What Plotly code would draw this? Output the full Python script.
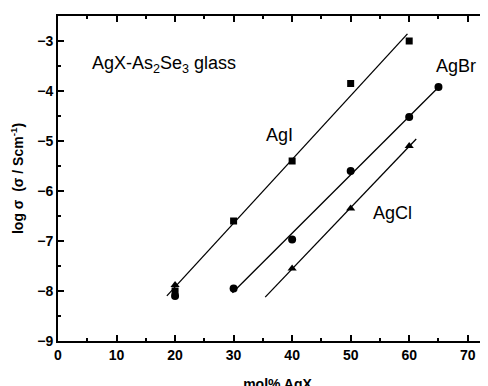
import numpy as np
import plotly.graph_objects as go

# Data (mol% AgX vs log conductivity)
agi_x = [20, 30, 40, 50, 60]
agi_y = [-8.0, -6.6, -5.4, -3.85, -3.0]
agbr_x = [20, 30, 40, 50, 60, 65]
agbr_y = [-8.1, -7.95, -6.97, -5.6, -4.52, -3.92]
agcl_x = [20, 40, 50, 60]
agcl_y = [-7.88, -7.55, -6.35, -5.1]

# fitted-line extents (x) and which points were fitted
agi_fit_range = [18.6, 59.7]
agbr_fit_range = [29.8, 65.0]
agcl_fit_range = [35.4, 61.2]
agbr_fit_from = 1   # AgBr fit excludes the 20 mol% point
agcl_fit_from = 1   # AgCl fit excludes the 20 mol% point

fig = go.Figure()

def fit_line(xs, ys, rng):
    k, b = np.polyfit(xs, ys, 1)
    xx = np.array(rng)
    return xx, k * xx + b

for xs, ys, rng in [
    (agi_x, agi_y, agi_fit_range),
    (agbr_x[agbr_fit_from:], agbr_y[agbr_fit_from:], agbr_fit_range),
    (agcl_x[agcl_fit_from:], agcl_y[agcl_fit_from:], agcl_fit_range),
]:
    lx, ly = fit_line(xs, ys, rng)
    fig.add_trace(go.Scatter(x=lx, y=ly, mode="lines",
                             line=dict(color="black", width=1.3), showlegend=False))

fig.add_trace(go.Scatter(x=agi_x, y=agi_y, mode="markers",
                         marker=dict(symbol="square", size=7, color="black"), showlegend=False))
fig.add_trace(go.Scatter(x=agbr_x, y=agbr_y, mode="markers",
                         marker=dict(symbol="circle", size=8, color="black"), showlegend=False))
fig.add_trace(go.Scatter(x=agcl_x, y=agcl_y, mode="markers",
                         marker=dict(symbol="triangle-up", size=8, color="black"), showlegend=False))

txtfont = dict(family="Liberation Sans, Arial", size=18, color="black")
fig.add_annotation(x=5.5, y=-3.46, text="AgX-As<sub>2</sub>Se<sub>3</sub> glass", showarrow=False,
                   xanchor="left", yanchor="middle", font=txtfont)
fig.add_annotation(x=35.2, y=-4.88, text="AgI", showarrow=False,
                   xanchor="left", yanchor="middle", font=txtfont)
fig.add_annotation(x=64.2, y=-3.5, text="AgBr", showarrow=False,
                   xanchor="left", yanchor="middle", font=txtfont)
fig.add_annotation(x=53.4, y=-6.44, text="AgCl", showarrow=False,
                   xanchor="left", yanchor="middle", font=txtfont)

tickfont = dict(family="Liberation Sans, Arial", size=14, color="black", weight="bold")
titlefont = dict(family="Liberation Sans, Arial", size=14, color="black", weight="bold")
fig.update_xaxes(range=[0, 75], tickmode="linear", tick0=0, dtick=10,
                 ticks="inside", ticklen=6, tickwidth=1.5, tickcolor="black",
                 minor=dict(ticks="inside", ticklen=3, dtick=5, tickcolor="black", tickwidth=1.5),
                 showline=True, linecolor="black", linewidth=2, mirror="ticks",
                 showgrid=False, zeroline=False, tickfont=tickfont, automargin=False,
                 title=dict(text="mol% AgX", font=titlefont, standoff=17))
fig.update_yaxes(range=[-9, -2.5], tickmode="linear", tick0=-9, dtick=1,
                 ticks="inside", ticklen=6, tickwidth=1.5, tickcolor="black",
                 minor=dict(ticks="inside", ticklen=3, dtick=0.5, tickcolor="black", tickwidth=1.5),
                 showline=True, linecolor="black", linewidth=2,
                 showgrid=False, zeroline=False, tickfont=tickfont, automargin=False,
                 title=dict(text="log σ  (σ / Scm<sup>-1</sup>)", font=titlefont, standoff=10))
# page body adds an 8px offset, so margins are reduced by 8 to land the plot where the reference has it
fig.update_layout(width=496, height=394, margin=dict(l=50, r=7, t=8, b=61),
                  paper_bgcolor="white", plot_bgcolor="white")
fig.write_html("out.html")
